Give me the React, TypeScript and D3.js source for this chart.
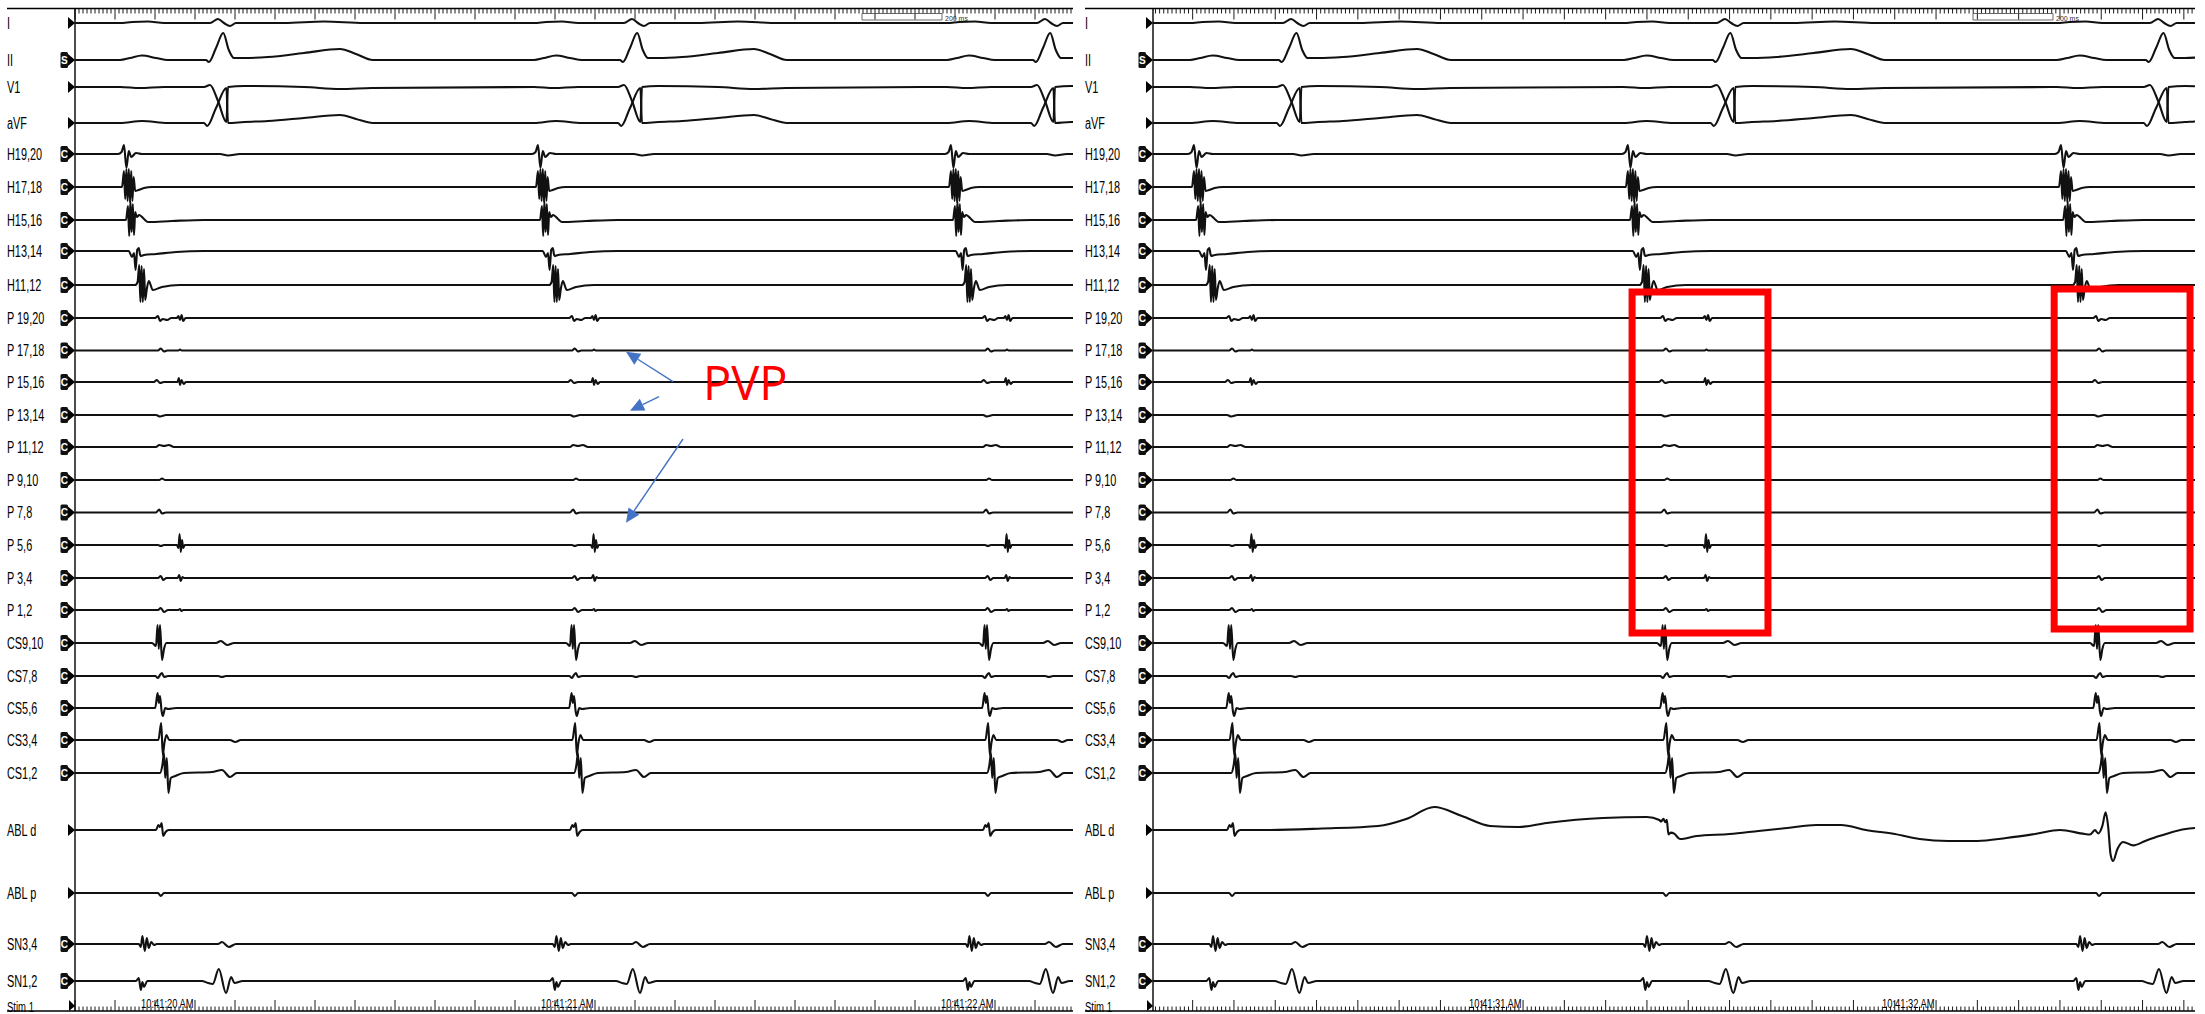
import React from 'react';
import * as d3 from 'd3';

const W = 2205;
const H = 1014;

// ---------------- data ----------------
const LABELS = ['I', 'II', 'V1', 'aVF', 'H19,20', 'H17,18', 'H15,16', 'H13,14', 'H11,12',
  'P 19,20', 'P 17,18', 'P 15,16', 'P 13,14', 'P 11,12', 'P 9,10', 'P 7,8', 'P 5,6', 'P 3,4', 'P 1,2',
  'CS9,10', 'CS7,8', 'CS5,6', 'CS3,4', 'CS1,2', 'ABL d', 'ABL p', 'SN3,4', 'SN1,2'];
const BADGES = ['', 'S', '', '', 'C', 'C', 'C', 'C', 'C',
  'C', 'C', 'C', 'C', 'C', 'C', 'C', 'C', 'C', 'C',
  'C', 'C', 'C', 'C', 'C', '', '', 'C', 'C'];

// beat times (s) = atrial activation on H19,20
const LEFT_BEATS = [19.8225, 20.8575, 21.89];
const RIGHT_BEATS = [30.2034, 31.254, 32.3027];
// PV potential delay after beat (ms); null = absent
const LEFT_PVP = [140, 140, 140];
const RIGHT_PVP = [140, 190, null];
const LEFT_SECONDS = [20, 21, 22];
const RIGHT_SECONDS = [31, 32];
const LEFT_RANGE = [19.7, 22.195];
const RIGHT_RANGE = [30.104, 32.627];

// templates: [ms after beat, amplitude]
const T_I = [[-10, 0], [20, 1], [60, 1.5], [100, 0], [215, 0], [235, 4], [250, 0], [265, -3], [280, 0], [400, 0], [500, 1.5], [600, 0]];
const T_II = [[-10, 0], [15, 2], [45, 4.5], [80, 2], [110, 0], [205, 0], [212, -2], [230, 12], [248, 27], [262, 10], [275, 2], [300, 2], [360, 3], [450, 7], [540, 11], [580, 6], [622, 0]];
const T_V1 = [[-10, 0], [40, -1], [100, 0], [200, 0], [215, 2], [235, -14], [256, -35], [260, 0], [300, 1], [450, 0], [540, -2], [620, -1]];
const T_AVF = [[-10, 0], [45, 2], [110, 0], [200, 0], [208, -3], [230, 15], [256, 35], [260, 0], [300, 1], [360, 2], [450, 5], [540, 8], [580, 4], [622, 0]];
const T_H1920 = [[-15, 0], [-6, 2], [0, 9], [6, -14], [12, 3], [18, -3], [30, 1], [45, 0], [240, 0], [260, -1.5], [290, 0]];
const T_H1718 = [[-5, 0], [0, 16], [3, -12], [6, 18], [9, -14], [12, 18], [15, -15], [18, 16], [21, -14], [24, 10], [28, -4], [36, -3], [50, -1], [70, 0]];
const T_H1516 = [[5, 0], [10, 14], [13, -16], [16, 19], [19, -12], [22, 16], [25, -15], [28, 8], [32, 3], [38, 5], [50, 1], [60, -2], [120, -1], [200, 0]];
const T_H1314 = [[12, 0], [20, -6], [25, -2], [29, -19], [33, 1], [37, 3], [41, -5], [50, -4], [80, -3], [130, -1], [200, 0]];
const T_H1112 = [[28, 0], [34, 3], [38, 20], [41, -17], [44, 19], [47, -17], [50, 16], [53, -15], [57, -4], [62, 4], [72, -5], [95, -2], [140, 0], [180, 0]];
const T_P1920 = [[78, 0], [85, 2], [90, -3], [97, -1], [108, -2], [118, 0]];
const T_P1718 = [[85, 0], [92, 2], [100, -1], [108, 0]];
const T_P1516 = [[75, 0], [82, 2], [90, -1], [100, 0]];
const T_P1314 = [[80, 0], [90, -1.5], [105, 0]];
const T_P1112 = [[80, 0], [88, 2], [100, 1], [112, 2], [125, 0]];
const T_P910 = [[88, 0], [95, 1.5], [103, 0]];
const T_P78 = [[80, 0], [88, 3], [95, -1], [105, 0]];
const T_P56 = [[85, 0], [92, -1], [100, 0]];
const T_P34 = [[85, 0], [92, 2], [98, -2], [106, 0]];
const T_P12 = [[85, 0], [92, 2], [100, -2], [110, 0]];
// PV potential templates: [ms around PVP time, amplitude]
const V_P1920 = [[-8, 0], [-4, 2], [0, -2], [4, 3], [8, -3], [14, 0]];
const V_P1718 = [[-4, 0], [0, 1], [4, 0]];
const V_P1516 = [[-6, 0], [-3, 4], [0, -3], [4, 2], [9, -2], [15, 0]];
const V_P56 = [[-8, 0], [-4, -3], [-1, 11], [2, -7], [5, 5], [8, -3], [12, 0]];
const V_P34 = [[-6, 0], [-2, 3], [2, -3], [6, 1], [10, 0]];
const V_P12 = [[-4, 0], [0, 1], [4, -1], [8, 0]];
const T_CS910 = [[70, 0], [80, -3], [84, 18], [87, -6], [90, 18], [95, -17], [100, -6], [106, 0], [230, 0], [242, 2], [258, -2], [275, 0]];
const T_CS78 = [[78, 0], [85, -2], [90, 1], [95, 3], [100, -1], [110, 0], [235, 0], [245, -1], [255, 0]];
const T_CS56 = [[78, 0], [84, 15], [87, 5], [90, 12], [94, -3], [97, -8], [103, 0], [110, -1], [130, 0]];
const T_CS34 = [[86, 0], [93, 17], [97, -15], [101, -3], [106, 5], [113, 0], [265, 0], [278, -2], [292, 0]];
const T_CS12 = [[90, 0], [96, 8], [100, 20], [103, -5], [107, 15], [111, -20], [117, -5], [128, -3], [150, 0], [220, 1], [245, 3], [265, -4], [282, 0]];
const T_ABLD = [[80, 0], [86, 5], [90, 3], [94, 7], [98, -6], [104, -2], [112, 0]];
const T_ABLP = [[85, 0], [92, -3], [100, 0]];
const T_SN34 = [[37, 0], [42, -3], [46, 8], [52, -7], [57, 6], [62, -4], [68, 2], [75, -1], [82, 0], [235, 0], [245, 2], [262, -3], [280, 0]];
const T_SN12 = [[30, 0], [37, 3], [42, -9], [46, -1], [50, -6], [58, 0], [195, 0], [210, -2], [222, -3], [237, 12], [255, -12], [268, 4], [276, -2], [297, 0]];
// right panel, ABL d: last beat and wandering baseline
const T_ABLD_R3 = [[70, 0], [82, 5], [90, 2], [100, 10], [108, 24], [114, 10], [120, -18], [126, -24], [136, -12], [150, -4], [175, -8], [205, -4], [240, 0]];
const DRIFT_ABLD_R_T = [30.104, 30.377, 30.513, 30.649, 30.717, 30.785, 30.852, 30.92, 30.989, 31.057, 31.193, 31.3, 31.33, 31.38, 31.42, 31.5, 31.57, 31.64, 31.71, 31.77, 31.83, 31.9, 31.96, 32.03, 32.1, 32.17, 32.24, 32.3, 32.36, 32.45, 32.54, 32.627];
const DRIFT_ABLD_R_A = [0, 0, 1.5, 4, 11, 23, 14, 4, 3, 7, 12, 13, 10, -9, -6, -4, -1, 2, 5, 5, 0, -4, -9, -11, -11, -8, -4, 0, -4, -8, -6, 2];

const FAR = [T_I, T_II, T_V1, T_AVF, T_H1920, T_H1718, T_H1516, T_H1314, T_H1112,
  T_P1920, T_P1718, T_P1516, T_P1314, T_P1112, T_P910, T_P78, T_P56, T_P34, T_P12,
  T_CS910, T_CS78, T_CS56, T_CS34, T_CS12, T_ABLD, T_ABLP, T_SN34, T_SN12];
const PVPT = [null, null, null, null, null, null, null, null, null,
  V_P1920, V_P1718, V_P1516, null, null, null, null, V_P56, V_P34, V_P12,
  null, null, null, null, null, null, null, null, null];

// ---------------- layout ----------------
const ROW_Y = [23, 60, 87, 123, 154, 187, 220, 251, 285, 318, 350.5, 382, 415, 447, 480, 512.5, 545, 578, 610,
  643, 676, 708, 740, 773, 830, 893, 944, 981];

const PANELS = [
  { labelX: 7, axisX: 75, endX: 1073, range: LEFT_RANGE, beats: LEFT_BEATS, pvp: LEFT_PVP, secs: LEFT_SECONDS, sbar: 862 },
  { labelX: 1085, axisX: 1153, endX: 2195, range: RIGHT_RANGE, beats: RIGHT_BEATS, pvp: RIGHT_PVP, secs: RIGHT_SECONDS, sbar: 1973 },
];

const OVERRIDES = [{ panel: 1, channel: 24, beat: 2, tmpl: T_ABLD_R3 }];
const DRIFTS = [{ panel: 1, channel: 24, t: DRIFT_ABLD_R_T, a: DRIFT_ABLD_R_A }];

// annotations (left panel)
const ARROWS = [
  { from: [21.195, 381.7], to: [21.0775, 351.7] },
  { from: [21.16, 396.7], to: [21.0875, 410.7] },
  { from: [21.22, 439], to: [21.0775, 522.7] },
];
const PVP_TEXT = { t: 21.27, y: 400, text: 'PVP' };
const BOXES = [
  { t0: 31.264, t1: 31.593, y0: 292, y1: 633 },
  { t0: 32.286, t1: 32.615, y0: 289, y1: 629 },
];

const FONT = "'Liberation Sans', Arial, sans-serif";

function buildPoints(ci: number, pi: number) {
  const panel = PANELS[pi];
  const map = new Map<number, number>();
  const spans: number[][] = [];
  const add = (t: number, a: number) => {
    const k = Math.round(t * 1e6) / 1e6;
    map.set(k, (map.get(k) ?? 0) + a);
  };
  panel.beats.forEach((bt, bi) => {
    const ov = OVERRIDES.find(o => o.panel === pi && o.channel === ci && o.beat === bi);
    const tm = ov ? ov.tmpl : FAR[ci];
    tm.forEach(([ms, a]) => add(bt + ms / 1000, a));
    spans.push([bt + tm[0][0] / 1000, bt + tm[tm.length - 1][0] / 1000]);
    const pv = panel.pvp[bi];
    const vt = PVPT[ci];
    if (vt && pv != null) {
      vt.forEach(([ms, a]) => add(bt + (pv + ms) / 1000, a));
      spans.push([bt + (pv + vt[0][0]) / 1000, bt + (pv + vt[vt.length - 1][0]) / 1000]);
    }
  });
  add(panel.range[0] - 0.05, 0);
  add(panel.range[1] + 0.05, 0);
  const dr = DRIFTS.find(d => d.panel === pi && d.channel === ci);
  let drift = (t: number) => 0;
  if (dr) {
    const s = d3.scaleLinear().domain(dr.t).range(dr.a).clamp(true);
    drift = (t: number) => s(t);
    dr.t.forEach(t => {
      if (!spans.some(([a, b]) => t >= a && t <= b)) add(t, 0);
    });
  }
  const pts = Array.from(map.entries()).sort((a, b) => a[0] - b[0]).map(([t, a]) => [t, a + drift(t)] as [number, number]);
  return pts;
}

function fmtTime(s: number) {
  return `10:41:${String(s).padStart(2, '0')} AM`;
}

function Panel({ pi }: { pi: number }) {
  const p = PANELS[pi];
  const x = d3.scaleLinear().domain(p.range).range([p.axisX, p.endX]);
  const topY = 8.5;
  const botY = 1011;
  const ticks = d3.range(Math.ceil(p.range[0] * 100 - 1e-6), Math.floor(p.range[1] * 100 + 1e-6) + 1);
  const clipId = `clip${pi}`;
  const line = d3.line<[number, number]>().x(d => x(d[0])).y(d => d[1]).curve(d3.curveMonotoneX);
  return (
    <g>
      <defs>
        <clipPath id={clipId}>
          <rect x={p.axisX} y={0} width={p.endX - p.axisX} height={H} />
        </clipPath>
      </defs>
      {/* top ruler */}
      <line x1={p.labelX} x2={p.endX} y1={topY} y2={topY} stroke="#000" strokeWidth={1.4} />
      {ticks.map(k => {
        const major = k % 10 === 0;
        return <line key={'t' + k} x1={x(k / 100)} x2={x(k / 100)} y1={topY} y2={major ? topY + 11 : topY + 5} stroke="#000" strokeWidth={0.9} />;
      })}
      {/* 200 ms scale bar */}
      <g stroke="#444" strokeWidth={0.8} fill="none">
        <line x1={p.sbar} x2={p.sbar + 80} y1={13.5} y2={13.5} />
        <line x1={p.sbar} x2={p.sbar + 80} y1={20} y2={20} />
        <line x1={p.sbar} x2={p.sbar} y1={13.5} y2={20} />
        <line x1={p.sbar + 80} x2={p.sbar + 80} y1={13.5} y2={20} />
      </g>
      <text x={p.sbar + 83} y={21} fontSize={7} fontFamily={FONT} fill="#333">200 ms</text>
      {/* bottom ruler */}
      <line x1={p.labelX} x2={p.endX} y1={botY} y2={botY} stroke="#000" strokeWidth={1.4} />
      {ticks.map(k => {
        const major = k % 10 === 0;
        return <line key={'b' + k} x1={x(k / 100)} x2={x(k / 100)} y1={botY} y2={major ? botY - 11 : botY - 4.5} stroke="#000" strokeWidth={0.9} />;
      })}
      {p.secs.map(s => (
        <text key={'s' + s} transform={`translate(${x(s) - 1.5},${1008}) scale(0.72,1)`} fontSize={13} fontFamily={FONT} textAnchor="end" fill="#000">{fmtTime(s)}</text>
      ))}
      {/* axis */}
      <line x1={p.axisX} x2={p.axisX} y1={topY} y2={botY} stroke="#000" strokeWidth={1.4} />
      {/* channel labels and markers */}
      {LABELS.map((lab, ci) => {
        const y = ROW_Y[ci];
        return (
          <g key={'l' + ci}>
            <text transform={`translate(${p.labelX},${y + 5.5}) scale(0.68,1)`} fontSize={16} fontFamily={FONT} fill="#000">{lab}</text>
            {BADGES[ci] && (
              <g>
                <rect x={p.axisX - 14.5} y={y - 8} width={7.5} height={16} rx={1.5} fill="#111" />
                <text x={p.axisX - 10.7} y={y + 3.5} fontSize={10} fontWeight="bold" textAnchor="middle" fontFamily={FONT} fill="#fff">{BADGES[ci]}</text>
              </g>
            )}
            <path d={`M${p.axisX - 7},${y - 6}L${p.axisX},${y}L${p.axisX - 7},${y + 6}Z`} fill="#000" />
          </g>
        );
      })}
      {/* stim row */}
      <text transform={`translate(${p.labelX},${1011.5}) scale(0.68,1)`} fontSize={14} fontFamily={FONT} fill="#000">Stim 1</text>
      <path d={`M${p.axisX - 6},${1000}L${p.axisX},${1006}L${p.axisX - 6},${1011}Z`} fill="#000" />
      {/* traces */}
      <g clipPath={`url(#${clipId})`}>
        {LABELS.map((lab, ci) => {
          const pts = buildPoints(ci, pi).map(([t, a]) => [t, ROW_Y[ci] - a] as [number, number]);
          return <path key={'tr' + ci} d={line(pts) || ''} fill="none" stroke="#111" strokeWidth={2.1} strokeLinejoin="round" />;
        })}
      </g>
    </g>
  );
}

function Arrow({ from, to, x }: any) {
  const x1 = x(from[0]), y1 = from[1], x2 = x(to[0]), y2 = to[1];
  const dx = x2 - x1, dy = y2 - y1;
  const len = Math.hypot(dx, dy);
  const ux = dx / len, uy = dy / len;
  const hl = 14, hw = 6.5;
  const bx = x2 - ux * hl, by = y2 - uy * hl;
  const pts = `${x2},${y2} ${bx - uy * hw},${by + ux * hw} ${bx + uy * hw},${by - ux * hw}`;
  return (
    <g>
      <line x1={x1} y1={y1} x2={bx} y2={by} stroke="#4472C4" strokeWidth={1.4} />
      <polygon points={pts} fill="#4472C4" />
    </g>
  );
}

export default function App() {
  const xl = d3.scaleLinear().domain(PANELS[0].range).range([PANELS[0].axisX, PANELS[0].endX]);
  const xr = d3.scaleLinear().domain(PANELS[1].range).range([PANELS[1].axisX, PANELS[1].endX]);
  return (
    <svg width={W} height={H} viewBox={`0 0 ${W} ${H}`} style={{ position: 'absolute', left: 0, top: 0, background: '#fff' }}>
      <rect x={0} y={0} width={W} height={H} fill="#fff" />
      <Panel pi={0} />
      <Panel pi={1} />
      {ARROWS.map((a, i) => <Arrow key={i} from={a.from} to={a.to} x={xl} />)}
      <text x={xl(PVP_TEXT.t)} y={PVP_TEXT.y} fontSize={47} fontFamily="'Open Sans', 'Noto Sans', sans-serif" fill="#ff0000">{PVP_TEXT.text}</text>
      {BOXES.map((b, i) => (
        <rect key={i} x={xr(b.t0)} y={b.y0} width={xr(b.t1) - xr(b.t0)} height={b.y1 - b.y0} fill="none" stroke="#ff0000" strokeWidth={7} />
      ))}
    </svg>
  );
}
